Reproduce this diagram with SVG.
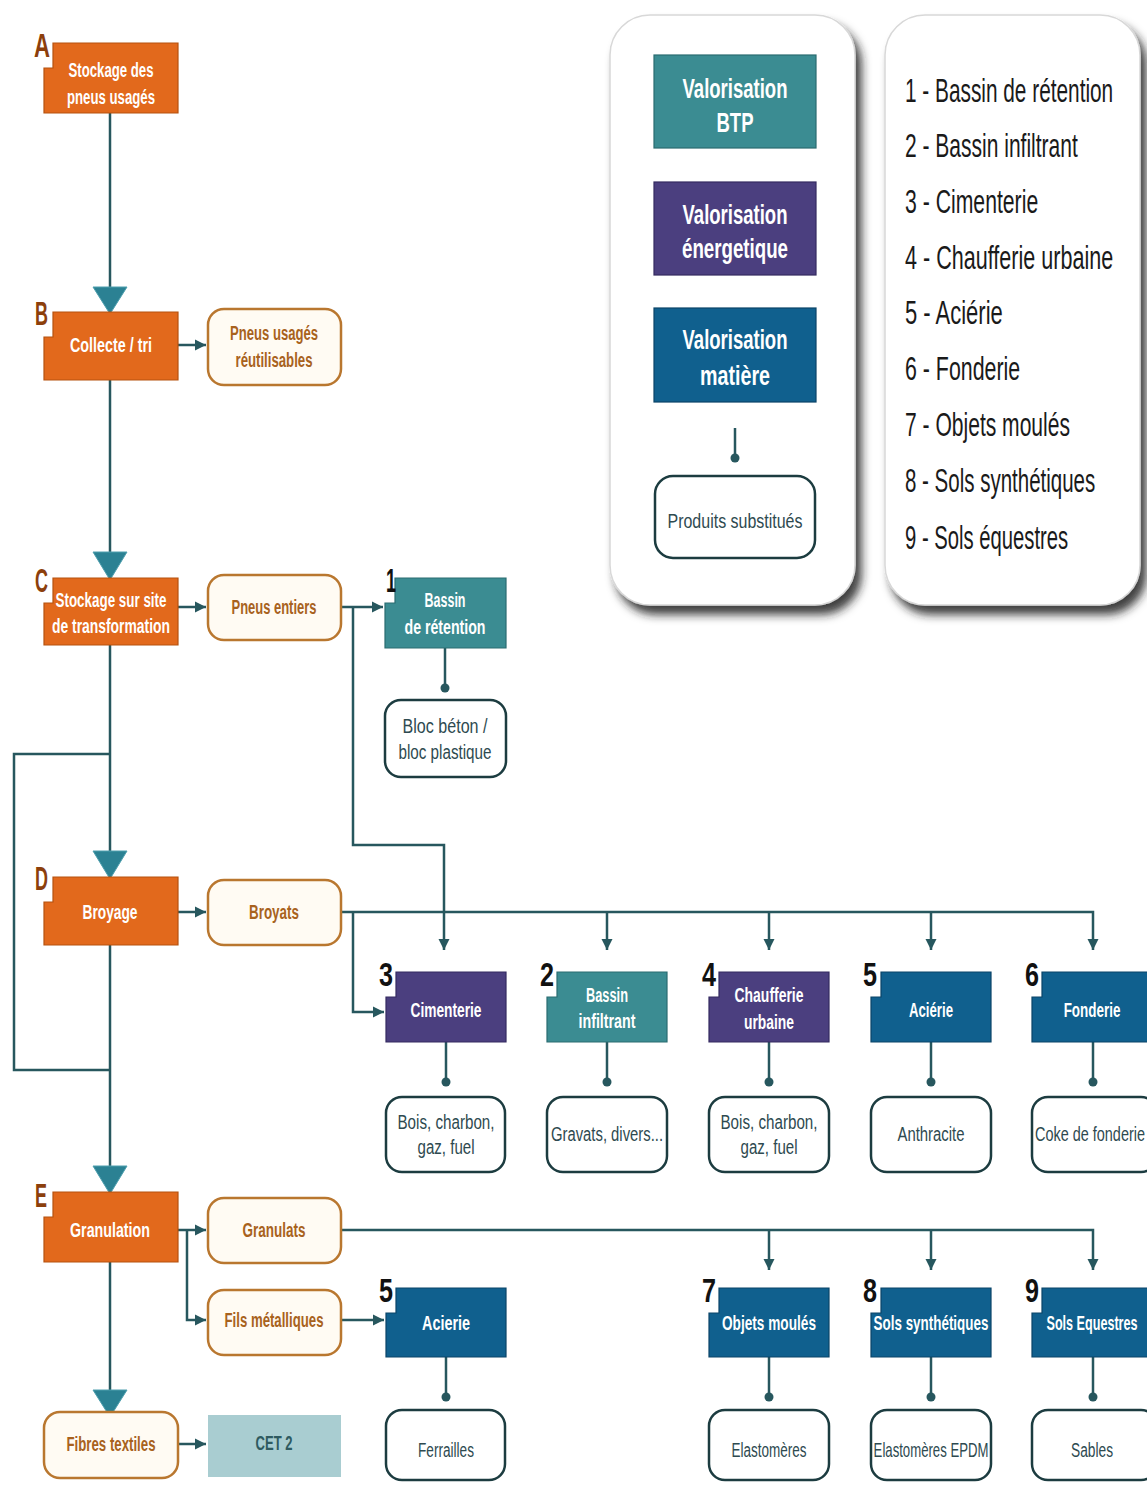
<svg xmlns="http://www.w3.org/2000/svg" width="1147" height="1485" viewBox="0 0 1147 1485">
  <defs>
    <style>
      text { font-family: "Liberation Sans", Arial, sans-serif; }
      .conn { fill: none; stroke: #27575e; stroke-width: 2.5; }
      .ob { fill: #e2691c; stroke: #b5520f; stroke-width: 1.2; }
      .btp { fill: #3b8c92; stroke: #2a6c71; stroke-width: 1.2; }
      .ene { fill: #4b3f7f; stroke: #342a60; stroke-width: 1.2; }
      .mat { fill: #10608e; stroke: #0a4468; stroke-width: 1.2; }
      .rb { fill: #fffbf3; stroke: #b9772f; stroke-width: 2.5; }
      .pb { fill: #ffffff; stroke: #1c3c40; stroke-width: 2.5; }
      .cet { fill: #a9cdd1; }
      .tw { fill: #ffffff; font-weight: bold; font-size: 20px; text-anchor: middle; }
      .tlg { fill: #ffffff; font-weight: bold; font-size: 28px; text-anchor: middle; }
      .to { fill: #a8621d; font-weight: bold; font-size: 20px; text-anchor: middle; }
      .tp { fill: #2e4a50; font-size: 20px; text-anchor: middle; }
      .tc { fill: #2e5a60; font-weight: bold; font-size: 20px; text-anchor: middle; }
      .let { fill: #8c3f0c; font-weight: bold; font-size: 34px; }
      .num { fill: #111111; font-weight: bold; font-size: 34px; }
      .lst { fill: #1a1a1a; font-size: 34px; }
      .tri { fill: #2b8193; stroke: #4e9fae; stroke-width: 1; }
      .dot { fill: #27575e; }
      .panel { fill: #ffffff; stroke: #d8d8d8; stroke-width: 1.5; }
    </style>
    <marker id="ah" viewBox="0 0 10 10" refX="10" refY="5" markerWidth="11" markerHeight="13" markerUnits="userSpaceOnUse" orient="auto">
      <path d="M0,0 L10,5 L0,10 Z" fill="#27575e"/>
    </marker>
    <filter id="shadow" x="-10%" y="-10%" width="130%" height="130%">
      <feDropShadow dx="6" dy="9" stdDeviation="5" flood-color="#1a1a1a" flood-opacity="0.85"/>
    </filter>
  </defs>

  <rect width="1147" height="1485" fill="#ffffff"/>

  <!-- legend: colour key -->
  <g id="legend-key">
    <rect class="panel" x="610" y="15" width="245" height="590" rx="40" filter="url(#shadow)"/>
    <rect class="btp" x="654" y="55" width="162" height="93"/>
    <text class="tlg" x="735" y="98" textLength="105" lengthAdjust="spacingAndGlyphs">Valorisation</text>
    <text class="tlg" x="735" y="132" textLength="37" lengthAdjust="spacingAndGlyphs">BTP</text>
    <rect class="ene" x="654" y="182" width="162" height="93"/>
    <text class="tlg" x="735" y="224" textLength="105" lengthAdjust="spacingAndGlyphs">Valorisation</text>
    <text class="tlg" x="735" y="258" textLength="106" lengthAdjust="spacingAndGlyphs">énergetique</text>
    <rect class="mat" x="654" y="308" width="162" height="94"/>
    <text class="tlg" x="735" y="349" textLength="105" lengthAdjust="spacingAndGlyphs">Valorisation</text>
    <text class="tlg" x="735" y="385" textLength="70" lengthAdjust="spacingAndGlyphs">matière</text>
    <line class="conn" x1="735" y1="428" x2="735" y2="456"/>
    <circle class="dot" cx="735" cy="458" r="4.5"/>
    <rect class="pb" x="655" y="476" width="160" height="82" rx="18"/>
    <text class="tp" x="735" y="528" textLength="135" lengthAdjust="spacingAndGlyphs">Produits substitués</text>
  </g>

  <!-- legend: numbered list (condensed by a horizontal scale) -->
  <g id="legend-list">
    <rect class="panel" x="885" y="15" width="255" height="590" rx="40" filter="url(#shadow)"/>
    <text class="lst" transform="translate(905,102) scale(0.6,1)" textLength="347" lengthAdjust="spacingAndGlyphs">1 - Bassin de rétention</text>
    <text class="lst" transform="translate(905,157) scale(0.6,1)" textLength="288" lengthAdjust="spacingAndGlyphs">2 - Bassin infiltrant</text>
    <text class="lst" transform="translate(905,213) scale(0.6,1)" textLength="222" lengthAdjust="spacingAndGlyphs">3 - Cimenterie</text>
    <text class="lst" transform="translate(905,269) scale(0.6,1)" textLength="347" lengthAdjust="spacingAndGlyphs">4 - Chaufferie urbaine</text>
    <text class="lst" transform="translate(905,324) scale(0.6,1)" textLength="163" lengthAdjust="spacingAndGlyphs">5 - Aciérie</text>
    <text class="lst" transform="translate(905,380) scale(0.6,1)" textLength="192" lengthAdjust="spacingAndGlyphs">6 - Fonderie</text>
    <text class="lst" transform="translate(905,436) scale(0.6,1)" textLength="275" lengthAdjust="spacingAndGlyphs">7 - Objets moulés</text>
    <text class="lst" transform="translate(905,492) scale(0.6,1)" textLength="317" lengthAdjust="spacingAndGlyphs">8 - Sols synthétiques</text>
    <text class="lst" transform="translate(905,549) scale(0.6,1)" textLength="272" lengthAdjust="spacingAndGlyphs">9 - Sols équestres</text>
  </g>

  <!-- connectors -->
  <g id="connectors">
    <!-- main spine -->
    <line class="conn" x1="110" y1="113" x2="110" y2="290"/>
    <line class="conn" x1="110" y1="380" x2="110" y2="555"/>
    <line class="conn" x1="110" y1="645" x2="110" y2="855"/>
    <line class="conn" x1="110" y1="945" x2="110" y2="1170"/>
    <line class="conn" x1="110" y1="1262" x2="110" y2="1395"/>
    <!-- loop on the left -->
    <polyline class="conn" points="110,754 14,754 14,1070 110,1070"/>
    <!-- side outputs -->
    <line class="conn" x1="178" y1="345" x2="206" y2="345" marker-end="url(#ah)"/>
    <line class="conn" x1="178" y1="607" x2="206" y2="607" marker-end="url(#ah)"/>
    <line class="conn" x1="178" y1="912" x2="206" y2="912" marker-end="url(#ah)"/>
    <line class="conn" x1="178" y1="1230" x2="206" y2="1230" marker-end="url(#ah)"/>
    <polyline class="conn" points="187,1230 187,1320 206,1320" marker-end="url(#ah)"/>
    <line class="conn" x1="178" y1="1444" x2="206" y2="1444" marker-end="url(#ah)"/>
    <!-- pneus entiers -->
    <line class="conn" x1="341" y1="607" x2="383" y2="607" marker-end="url(#ah)"/>
    <polyline class="conn" points="353,607 353,845 444,845 444,950" marker-end="url(#ah)"/>
    <!-- broyats -->
    <polyline class="conn" points="341,912 1093,912 1093,950" marker-end="url(#ah)"/>
    <line class="conn" x1="607" y1="912" x2="607" y2="950" marker-end="url(#ah)"/>
    <line class="conn" x1="769" y1="912" x2="769" y2="950" marker-end="url(#ah)"/>
    <line class="conn" x1="931" y1="912" x2="931" y2="950" marker-end="url(#ah)"/>
    <polyline class="conn" points="353,912 353,1012 384,1012" marker-end="url(#ah)"/>
    <!-- granulats -->
    <polyline class="conn" points="341,1230 1093,1230 1093,1270" marker-end="url(#ah)"/>
    <line class="conn" x1="769" y1="1230" x2="769" y2="1270" marker-end="url(#ah)"/>
    <line class="conn" x1="931" y1="1230" x2="931" y2="1270" marker-end="url(#ah)"/>
    <!-- fils metalliques -->
    <line class="conn" x1="341" y1="1320" x2="384" y2="1320" marker-end="url(#ah)"/>
    <!-- product links -->
    <line class="conn" x1="445" y1="648" x2="445" y2="688"/>
    <circle class="dot" cx="445" cy="688" r="4.5"/>
    <line class="conn" x1="446" y1="1042" x2="446" y2="1082"/>
    <circle class="dot" cx="446" cy="1082" r="4.5"/>
    <line class="conn" x1="607" y1="1042" x2="607" y2="1082"/>
    <circle class="dot" cx="607" cy="1082" r="4.5"/>
    <line class="conn" x1="769" y1="1042" x2="769" y2="1082"/>
    <circle class="dot" cx="769" cy="1082" r="4.5"/>
    <line class="conn" x1="931" y1="1042" x2="931" y2="1082"/>
    <circle class="dot" cx="931" cy="1082" r="4.5"/>
    <line class="conn" x1="1093" y1="1042" x2="1093" y2="1082"/>
    <circle class="dot" cx="1093" cy="1082" r="4.5"/>
    <line class="conn" x1="446" y1="1357" x2="446" y2="1397"/>
    <circle class="dot" cx="446" cy="1397" r="4.5"/>
    <line class="conn" x1="769" y1="1357" x2="769" y2="1397"/>
    <circle class="dot" cx="769" cy="1397" r="4.5"/>
    <line class="conn" x1="931" y1="1357" x2="931" y2="1397"/>
    <circle class="dot" cx="931" cy="1397" r="4.5"/>
    <line class="conn" x1="1093" y1="1357" x2="1093" y2="1397"/>
    <circle class="dot" cx="1093" cy="1397" r="4.5"/>
    <!-- big entry triangles -->
    <polygon class="tri" points="93,287 127,287 110,314"/>
    <polygon class="tri" points="93,552 127,552 110,580"/>
    <polygon class="tri" points="93,851 127,851 110,879"/>
    <polygon class="tri" points="93,1166 127,1166 110,1194"/>
    <polygon class="tri" points="93,1390 127,1390 110,1417"/>
  </g>

  <!-- process steps -->
  <g id="step-a">
    <path class="ob" d="M53,43 H178 V113 H44 V68 H53 Z"/>
    <text class="let" x="34" y="57" textLength="16" lengthAdjust="spacingAndGlyphs">A</text>
    <text class="tw" x="111" y="77" textLength="85" lengthAdjust="spacingAndGlyphs">Stockage des</text>
    <text class="tw" x="111" y="104" textLength="88" lengthAdjust="spacingAndGlyphs">pneus usagés</text>
  </g>
  <g id="step-b">
    <path class="ob" d="M53,312 H178 V380 H44 V337 H53 Z"/>
    <text class="let" x="35" y="325" textLength="13" lengthAdjust="spacingAndGlyphs">B</text>
    <text class="tw" x="111" y="352" textLength="82" lengthAdjust="spacingAndGlyphs">Collecte / tri</text>
  </g>
  <g id="step-c">
    <path class="ob" d="M53,578 H178 V645 H44 V603 H53 Z"/>
    <text class="let" x="35" y="592" textLength="13" lengthAdjust="spacingAndGlyphs">C</text>
    <text class="tw" x="111" y="607" textLength="111" lengthAdjust="spacingAndGlyphs">Stockage sur site</text>
    <text class="tw" x="111" y="633" textLength="118" lengthAdjust="spacingAndGlyphs">de transformation</text>
  </g>
  <g id="step-d">
    <path class="ob" d="M53,877 H178 V945 H44 V902 H53 Z"/>
    <text class="let" x="35" y="890" textLength="13" lengthAdjust="spacingAndGlyphs">D</text>
    <text class="tw" x="110" y="919" textLength="55" lengthAdjust="spacingAndGlyphs">Broyage</text>
  </g>
  <g id="step-e">
    <path class="ob" d="M53,1192 H178 V1262 H44 V1217 H53 Z"/>
    <text class="let" x="35" y="1207" textLength="12" lengthAdjust="spacingAndGlyphs">E</text>
    <text class="tw" x="110" y="1237" textLength="80" lengthAdjust="spacingAndGlyphs">Granulation</text>
  </g>

  <!-- intermediate products -->
  <g id="pneus-reutilisables">
    <rect class="rb" x="208" y="309" width="133" height="76" rx="16"/>
    <text class="to" x="274" y="340" textLength="88" lengthAdjust="spacingAndGlyphs">Pneus usagés</text>
    <text class="to" x="274" y="367" textLength="77" lengthAdjust="spacingAndGlyphs">réutilisables</text>
  </g>
  <g id="pneus-entiers">
    <rect class="rb" x="208" y="575" width="133" height="65" rx="16"/>
    <text class="to" x="274" y="614" textLength="85" lengthAdjust="spacingAndGlyphs">Pneus entiers</text>
  </g>
  <g id="broyats">
    <rect class="rb" x="208" y="880" width="133" height="65" rx="16"/>
    <text class="to" x="274" y="919" textLength="50" lengthAdjust="spacingAndGlyphs">Broyats</text>
  </g>
  <g id="granulats">
    <rect class="rb" x="208" y="1198" width="133" height="65" rx="16"/>
    <text class="to" x="274" y="1237" textLength="63" lengthAdjust="spacingAndGlyphs">Granulats</text>
  </g>
  <g id="fils-metalliques">
    <rect class="rb" x="208" y="1290" width="133" height="65" rx="16"/>
    <text class="to" x="274" y="1327" textLength="99" lengthAdjust="spacingAndGlyphs">Fils métalliques</text>
  </g>
  <g id="fibres-textiles">
    <rect class="rb" x="44" y="1412" width="134" height="66" rx="16"/>
    <text class="to" x="111" y="1451" textLength="89" lengthAdjust="spacingAndGlyphs">Fibres textiles</text>
  </g>
  <g id="cet2">
    <rect class="cet" x="208" y="1415" width="133" height="62"/>
    <text class="tc" x="274" y="1450" textLength="37" lengthAdjust="spacingAndGlyphs">CET 2</text>
  </g>

  <!-- outlets -->
  <g id="bassin-retention">
    <path class="btp" d="M395,578 H506 V648 H385 V603 H395 Z"/>
    <text class="num" x="386" y="592" textLength="10" lengthAdjust="spacingAndGlyphs">1</text>
    <text class="tw" x="445" y="607" textLength="41" lengthAdjust="spacingAndGlyphs">Bassin</text>
    <text class="tw" x="445" y="634" textLength="81" lengthAdjust="spacingAndGlyphs">de rétention</text>
  </g>
  <g id="bloc-beton">
    <rect class="pb" x="385" y="700" width="121" height="77" rx="16"/>
    <text class="tp" x="445" y="733" textLength="85" lengthAdjust="spacingAndGlyphs">Bloc béton /</text>
    <text class="tp" x="445" y="759" textLength="93" lengthAdjust="spacingAndGlyphs">bloc plastique</text>
  </g>

  <g id="cimenterie">
    <path class="ene" d="M396,972 H506 V1042 H386 V997 H396 Z"/>
    <text class="num" x="379" y="986" textLength="14" lengthAdjust="spacingAndGlyphs">3</text>
    <text class="tw" x="446" y="1017" textLength="71" lengthAdjust="spacingAndGlyphs">Cimenterie</text>
  </g>
  <g id="bassin-infiltrant">
    <path class="btp" d="M557,972 H667 V1042 H547 V997 H557 Z"/>
    <text class="num" x="540" y="986" textLength="14" lengthAdjust="spacingAndGlyphs">2</text>
    <text class="tw" x="607" y="1002" textLength="42" lengthAdjust="spacingAndGlyphs">Bassin</text>
    <text class="tw" x="607" y="1028" textLength="57" lengthAdjust="spacingAndGlyphs">infiltrant</text>
  </g>
  <g id="chaufferie">
    <path class="ene" d="M719,972 H829 V1042 H709 V997 H719 Z"/>
    <text class="num" x="702" y="986" textLength="14" lengthAdjust="spacingAndGlyphs">4</text>
    <text class="tw" x="769" y="1002" textLength="69" lengthAdjust="spacingAndGlyphs">Chaufferie</text>
    <text class="tw" x="769" y="1029" textLength="50" lengthAdjust="spacingAndGlyphs">urbaine</text>
  </g>
  <g id="acierie-1">
    <path class="mat" d="M881,972 H991 V1042 H871 V997 H881 Z"/>
    <text class="num" x="863" y="986" textLength="14" lengthAdjust="spacingAndGlyphs">5</text>
    <text class="tw" x="931" y="1017" textLength="44" lengthAdjust="spacingAndGlyphs">Aciérie</text>
  </g>
  <g id="fonderie">
    <path class="mat" d="M1042,972 H1152 V1042 H1032 V997 H1042 Z"/>
    <text class="num" x="1025" y="986" textLength="14" lengthAdjust="spacingAndGlyphs">6</text>
    <text class="tw" transform="translate(1092,1017) scale(0.7,1)" textLength="81" lengthAdjust="spacingAndGlyphs">Fonderie</text>
  </g>

  <g id="subst-cimenterie">
    <rect class="pb" x="386" y="1097" width="119" height="75" rx="16"/>
    <text class="tp" x="446" y="1129" textLength="97" lengthAdjust="spacingAndGlyphs">Bois, charbon,</text>
    <text class="tp" x="446" y="1154" textLength="57" lengthAdjust="spacingAndGlyphs">gaz, fuel</text>
  </g>
  <g id="subst-bassin">
    <rect class="pb" x="547" y="1097" width="120" height="75" rx="16"/>
    <text class="tp" x="607" y="1141" textLength="112" lengthAdjust="spacingAndGlyphs">Gravats, divers...</text>
  </g>
  <g id="subst-chaufferie">
    <rect class="pb" x="709" y="1097" width="120" height="75" rx="16"/>
    <text class="tp" x="769" y="1129" textLength="97" lengthAdjust="spacingAndGlyphs">Bois, charbon,</text>
    <text class="tp" x="769" y="1154" textLength="57" lengthAdjust="spacingAndGlyphs">gaz, fuel</text>
  </g>
  <g id="subst-acierie">
    <rect class="pb" x="871" y="1097" width="120" height="75" rx="16"/>
    <text class="tp" x="931" y="1141" textLength="67" lengthAdjust="spacingAndGlyphs">Anthracite</text>
  </g>
  <g id="subst-fonderie">
    <rect class="pb" x="1032" y="1097" width="125" height="75" rx="16"/>
    <text class="tp" transform="translate(1090,1141) scale(0.7,1)" textLength="157" lengthAdjust="spacingAndGlyphs">Coke de fonderie</text>
  </g>

  <g id="acierie-2">
    <path class="mat" d="M396,1288 H506 V1357 H386 V1313 H396 Z"/>
    <text class="num" x="379" y="1302" textLength="14" lengthAdjust="spacingAndGlyphs">5</text>
    <text class="tw" x="446" y="1330" textLength="48" lengthAdjust="spacingAndGlyphs">Acierie</text>
  </g>
  <g id="objets-moules">
    <path class="mat" d="M719,1288 H829 V1357 H709 V1313 H719 Z"/>
    <text class="num" x="702" y="1302" textLength="14" lengthAdjust="spacingAndGlyphs">7</text>
    <text class="tw" x="769" y="1330" textLength="94" lengthAdjust="spacingAndGlyphs">Objets moulés</text>
  </g>
  <g id="sols-synthetiques">
    <path class="mat" d="M881,1288 H991 V1357 H871 V1313 H881 Z"/>
    <text class="num" x="863" y="1302" textLength="14" lengthAdjust="spacingAndGlyphs">8</text>
    <text class="tw" transform="translate(931,1330) scale(0.7,1)" textLength="164" lengthAdjust="spacingAndGlyphs">Sols synthétiques</text>
  </g>
  <g id="sols-equestres">
    <path class="mat" d="M1042,1288 H1152 V1357 H1032 V1313 H1042 Z"/>
    <text class="num" x="1025" y="1302" textLength="14" lengthAdjust="spacingAndGlyphs">9</text>
    <text class="tw" transform="translate(1092,1330) scale(0.7,1)" textLength="130" lengthAdjust="spacingAndGlyphs">Sols Equestres</text>
  </g>

  <g id="ferrailles">
    <rect class="pb" x="386" y="1410" width="119" height="70" rx="16"/>
    <text class="tp" x="446" y="1457" textLength="56" lengthAdjust="spacingAndGlyphs">Ferrailles</text>
  </g>
  <g id="elastomeres">
    <rect class="pb" x="709" y="1410" width="120" height="70" rx="16"/>
    <text class="tp" x="769" y="1457" textLength="75" lengthAdjust="spacingAndGlyphs">Elastomères</text>
  </g>
  <g id="elastomeres-epdm">
    <rect class="pb" x="871" y="1410" width="120" height="70" rx="16"/>
    <text class="tp" transform="translate(931,1457) scale(0.7,1)" textLength="164" lengthAdjust="spacingAndGlyphs">Elastomères EPDM</text>
  </g>
  <g id="sables">
    <rect class="pb" x="1032" y="1410" width="125" height="70" rx="16"/>
    <text class="tp" x="1092" y="1457" textLength="42" lengthAdjust="spacingAndGlyphs">Sables</text>
  </g>
</svg>
